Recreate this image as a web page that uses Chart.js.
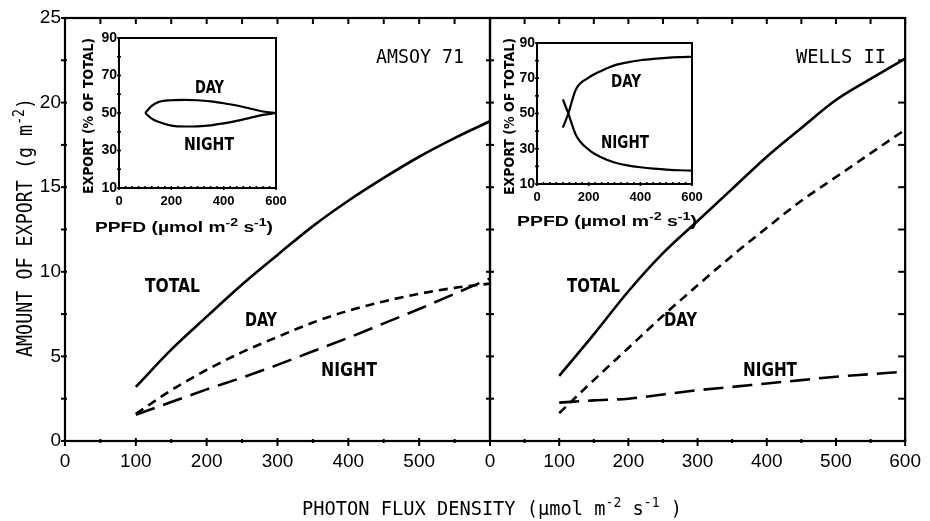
<!DOCTYPE html>
<html>
<head>
<meta charset="utf-8">
<script src="https://cdn.jsdelivr.net/npm/chart.js@4.4.1/dist/chart.umd.min.js"></script>
<style>
  html, body { margin: 0; padding: 0; background: #fff; }
  #wrap { position: relative; width: 930px; height: 521px; }
  #wrap canvas { position: absolute; left: 0; top: 0; }
</style>
</head>
<body>
<div id="wrap">
  <canvas id="amsoy" width="930" height="521"></canvas>
  <canvas id="wells" width="930" height="521"></canvas>
  <canvas id="amsoyPct" width="930" height="521"></canvas>
  <canvas id="wellsPct" width="930" height="521"></canvas>
</div>
<script>
// main panels: export (g m-2) vs PPFD
const PPFD = [100, 150, 200, 250, 300, 350, 400, 450, 500, 550, 600];
const AMSOY_TOTAL = [3.2, 5.4, 7.35, 9.25, 11.0, 12.7, 14.2, 15.55, 16.8, 17.9, 18.9];
const AMSOY_DAY = [1.6, 3.0, 4.2, 5.25, 6.15, 7.0, 7.7, 8.25, 8.7, 9.05, 9.3];
const AMSOY_NIGHT = [1.55, 2.3, 3.05, 3.75, 4.5, 5.3, 6.1, 6.95, 7.8, 8.7, 9.6];
const WELLS_TOTAL = [3.85, 6.3, 8.85, 11.1, 13.0, 14.9, 16.8, 18.5, 20.15, 21.4, 22.6];
const WELLS_DAY = [1.65, 3.6, 5.5, 7.4, 9.2, 10.95, 12.6, 14.2, 15.6, 17.0, 18.4];
const WELLS_NIGHT = [2.27, 2.4, 2.5, 2.75, 3.0, 3.2, 3.4, 3.6, 3.8, 3.95, 4.1];

// insets: export (% of total) vs PPFD
const AMSOY_PCT_X = [100, 125, 150, 200, 250, 300, 350, 400, 450, 500, 550, 600];
const AMSOY_DAY_PCT = [50, 53.8, 55.8, 56.8, 57, 56.8, 56.2, 55.2, 54, 52.4, 50.8, 50];
const AMSOY_NIGHT_PCT = [50, 47, 45.3, 43.3, 42.8, 42.9, 43.4, 44.5, 45.8, 47.4, 49, 50];
const WELLS_PCT_X = [100, 120, 150, 200, 250, 300, 350, 400, 450, 500, 550, 600];
const WELLS_DAY_PCT = [42, 49.5, 63.5, 70.3, 74.3, 77.3, 79, 80.2, 81, 81.6, 82, 82.2];
const WELLS_NIGHT_PCT = [58, 50.5, 38, 29.5, 25, 22.2, 20.6, 19.5, 18.7, 18.2, 17.8, 17.6];

const MAIN_X_TICKS = [0, 100, 200, 300, 400, 500, 600];
const MAIN_Y_TICKS = [0, 5, 10, 15, 20, 25];
const PCT_X_TICKS = [0, 200, 400, 600];
const PCT_Y_TICKS = [10, 30, 50, 70, 90];

const SANS = '"Liberation Sans", Arial, sans-serif';
const MONO = '"DejaVu Sans Mono", monospace';
const NARROW = '"Liberation Sans Narrow", "DejaVu Sans Condensed", "Liberation Sans", sans-serif';

const pts = (xs, ys) => xs.map((x, i) => ({ x: x, y: ys[i] }));
const curve = (xs, ys, dash, w) => ({
  data: pts(xs, ys), borderColor: '#000', borderWidth: w, borderDash: dash,
  pointRadius: 0, fill: false, cubicInterpolationMode: 'monotone'
});
const fixTicks = list => s => { s.ticks = list.map(v => ({ value: v })); };

// text with optional superscripts, squeezed to a given width
function rich(ctx, parts, x, y, width, font, supFont, rot) {
  ctx.save();
  let total = 0;
  parts.forEach(([t, s]) => { ctx.font = s ? supFont : font; total += ctx.measureText(t).width; });
  ctx.translate(x, y);
  if (rot) ctx.rotate(-Math.PI / 2);
  ctx.scale(width / total, 1);
  ctx.fillStyle = '#000';
  ctx.textAlign = 'left';
  ctx.textBaseline = 'alphabetic';
  let cx = 0;
  parts.forEach(([t, s]) => {
    ctx.font = s ? supFont : font;
    ctx.fillText(t, cx, s ? -s : 0);
    cx += ctx.measureText(t).width;
  });
  ctx.restore();
}

function framePlugin(cfg, notes) {
  return {
    id: 'frame',
    beforeDraw(chart) {
      if (!cfg.white) return;
      const a = chart.chartArea, ctx = chart.ctx;
      ctx.save();
      ctx.fillStyle = '#fff';
      ctx.fillRect(a.left, a.top, a.right - a.left, a.bottom - a.top);
      ctx.restore();
    },
    afterDraw(chart) {
      const ctx = chart.ctx, a = chart.chartArea, xs = chart.scales.x, ys = chart.scales.y;
      ctx.save();
      ctx.strokeStyle = '#000';
      ctx.lineWidth = cfg.frame;
      ctx.strokeRect(a.left, a.top, a.right - a.left, a.bottom - a.top);
      ctx.lineWidth = cfg.tick;
      const seg = (x1, y1, x2, y2) => { ctx.beginPath(); ctx.moveTo(x1, y1); ctx.lineTo(x2, y2); ctx.stroke(); };
      const each = (s, step, fn) => { for (let v = s.min; v <= s.max + 1e-9; v += step) fn(s.getPixelForValue(v), v); };
      if (cfg.bottom) each(xs, cfg.bottom.step, (px, v) => {
        const L = v % cfg.bottom.major === 0 ? cfg.bottom.big : cfg.bottom.small;
        seg(px, a.bottom - L[0], px, a.bottom + L[1]);
      });
      if (cfg.top) each(xs, cfg.top.step, px => seg(px, a.top, px, a.top + cfg.top.len));
      if (cfg.left) each(ys, cfg.left.step, py => seg(a.left - cfg.left.len[1], py, a.left + cfg.left.len[0], py));
      if (cfg.right) each(ys, cfg.right.step, py => seg(a.right - cfg.right.len[0], py, a.right + cfg.right.len[1], py));
      ctx.restore();
      notes(ctx);
    }
  };
}

const common = {
  responsive: false, animation: false, events: [],
  plugins: { legend: { display: false }, tooltip: { enabled: false } }
};

function mainScales(showY, hideLast) {
  return {
    x: {
      type: 'linear', min: 0, max: 600,
      afterBuildTicks: fixTicks(MAIN_X_TICKS),
      afterFit: s => { s.height = 80; },
      grid: { display: false, drawTicks: false }, border: { display: false },
      ticks: {
        color: '#000', font: { family: SANS, size: 19 }, padding: 9, maxRotation: 0, autoSkip: false,
        callback: v => (hideLast && v === 600 ? '' : String(v))
      }
    },
    y: {
      type: 'linear', min: 0, max: 25, display: showY,
      afterBuildTicks: fixTicks(MAIN_Y_TICKS),
      afterFit: s => { s.width = showY ? 65 : 0; },
      grid: { display: false, drawTicks: false }, border: { display: false },
      ticks: { color: '#000', font: { family: SANS, size: 19 }, padding: 4 }
    }
  };
}

function pctScales() {
  return {
    x: {
      type: 'linear', min: 0, max: 600,
      afterBuildTicks: fixTicks(PCT_X_TICKS),
      afterFit: s => { s.height = 50; },
      grid: { display: false, drawTicks: false }, border: { display: false },
      ticks: { color: '#000', font: { family: SANS, size: 13, weight: 'bold' }, padding: 6, maxRotation: 0, autoSkip: false }
    },
    y: {
      type: 'linear', min: 10, max: 90,
      afterBuildTicks: fixTicks(PCT_Y_TICKS),
      afterFit: s => { s.width = 40; },
      grid: { display: false, drawTicks: false }, border: { display: false },
      ticks: { color: '#000', font: { family: SANS, size: 14, weight: 'bold' }, padding: 2 }
    }
  };
}

const LBL = 'bold 19px ' + NARROW;
const TITLE = '20px ' + MONO;
const TITLE_SUP = '14px ' + MONO;

// AMSOY 71 main panel
new Chart(document.getElementById('amsoy'), {
  type: 'line',
  data: { datasets: [
    curve(PPFD, AMSOY_TOTAL, [], 2.6),
    curve(PPFD, AMSOY_DAY, [9, 6], 2.6),
    curve(PPFD, AMSOY_NIGHT, [20, 9], 2.6)
  ] },
  options: Object.assign({}, common, {
    layout: { padding: { left: 0, top: 18, right: 440, bottom: 0 } },
    scales: mainScales(true, true)
  }),
  plugins: [framePlugin({
    frame: 2.2, tick: 2,
    bottom: { step: 50, major: 100, big: [3, 5], small: [2, 2] },
    top: { step: 50, len: 6 },
    left: { step: 2.5, len: [2, 4] },
    right: { step: 2.5, len: [4, 4] }
  }, ctx => {
    rich(ctx, [['AMSOY 71', 0]], 376, 63, 88, TITLE, TITLE_SUP);
    rich(ctx, [['TOTAL', 0]], 145, 291.5, 55, LBL, LBL);
    rich(ctx, [['DAY', 0]], 245, 326, 32, LBL, LBL);
    rich(ctx, [['NIGHT', 0]], 321, 376, 56, LBL, LBL);
    rich(ctx, [['PHOTON FLUX DENSITY (\u00b5mol m', 0], ['-2', 8], [' s', 0], ['-1', 8], [' )', 0]],
      302, 515, 380, TITLE, TITLE_SUP);
    rich(ctx, [['AMOUNT OF EXPORT (g m', 0], ['-2', 8], [')', 0]],
      32, 357, 259, '21px ' + MONO, '15px ' + MONO, true);
  })]
});

// WELLS II main panel
new Chart(document.getElementById('wells'), {
  type: 'line',
  data: { datasets: [
    curve(PPFD, WELLS_TOTAL, [], 2.6),
    curve(PPFD, WELLS_DAY, [9, 6], 2.6),
    curve(PPFD, WELLS_NIGHT, [20, 9], 2.6)
  ] },
  options: Object.assign({}, common, {
    layout: { padding: { left: 490, top: 18, right: 17, bottom: 0 } },
    scales: mainScales(false, false)
  }),
  plugins: [framePlugin({
    frame: 2.2, tick: 2,
    bottom: { step: 50, major: 100, big: [3, 5], small: [2, 2] },
    top: { step: 50, len: 6 },
    right: { step: 2.5, len: [7, 0] }
  }, ctx => {
    rich(ctx, [['WELLS II', 0]], 796, 63, 90, TITLE, TITLE_SUP);
    rich(ctx, [['TOTAL', 0]], 567, 291.5, 53, LBL, LBL);
    rich(ctx, [['DAY', 0]], 664, 326, 33, LBL, LBL);
    rich(ctx, [['NIGHT', 0]], 743, 376, 54, LBL, LBL);
  })]
});

const ILBL = 'bold 17px ' + NARROW;
const IT = 'bold 14px ' + NARROW;
const IT_SUP = 'bold 10px ' + NARROW;
const PT = 'bold 15px ' + SANS;
const PT_SUP = 'bold 11px ' + SANS;

// AMSOY 71 inset
new Chart(document.getElementById('amsoyPct'), {
  type: 'line',
  data: { datasets: [
    curve(AMSOY_PCT_X, AMSOY_DAY_PCT, [], 2.2),
    curve(AMSOY_PCT_X, AMSOY_NIGHT_PCT, [], 2.2)
  ] },
  options: Object.assign({}, common, {
    layout: { padding: { left: 79, top: 38, right: 654, bottom: 283 } },
    scales: pctScales()
  }),
  plugins: [framePlugin({
    white: true, frame: 2, tick: 1.6,
    bottom: { step: 25, major: 200, big: [2, 2], small: [2, 1] },
    left: { step: 10, len: [2, 2] }
  }, ctx => {
    rich(ctx, [['DAY', 0]], 195, 93, 29, ILBL, ILBL);
    rich(ctx, [['NIGHT', 0]], 184, 150, 50, ILBL, ILBL);
    rich(ctx, [['EXPORT (% OF TOTAL)', 0]], 93, 194, 156, IT, IT_SUP, true);
    rich(ctx, [['PPFD (\u00b5mol m', 0], ['-2', 6], [' s', 0], ['-1', 6], [')', 0]], 95, 232, 178, PT, PT_SUP);
  })]
});

// WELLS II inset
new Chart(document.getElementById('wellsPct'), {
  type: 'line',
  data: { datasets: [
    curve(WELLS_PCT_X, WELLS_DAY_PCT, [], 2.2),
    curve(WELLS_PCT_X, WELLS_NIGHT_PCT, [], 2.2)
  ] },
  options: Object.assign({}, common, {
    layout: { padding: { left: 497, top: 43, right: 238, bottom: 287 } },
    scales: pctScales()
  }),
  plugins: [framePlugin({
    white: true, frame: 2, tick: 1.6,
    bottom: { step: 25, major: 200, big: [2, 2], small: [2, 1] },
    left: { step: 10, len: [2, 2] }
  }, ctx => {
    rich(ctx, [['DAY', 0]], 611, 87, 30, ILBL, ILBL);
    rich(ctx, [['NIGHT', 0]], 601, 148, 48, ILBL, ILBL);
    rich(ctx, [['EXPORT (% OF TOTAL)', 0]], 514, 195, 157, IT, IT_SUP, true);
    rich(ctx, [['PPFD (\u00b5mol m', 0], ['-2', 6], [' s', 0], ['-1', 6], [')', 0]], 517, 226, 180, PT, PT_SUP);
  })]
});
</script>
</body>
</html>
